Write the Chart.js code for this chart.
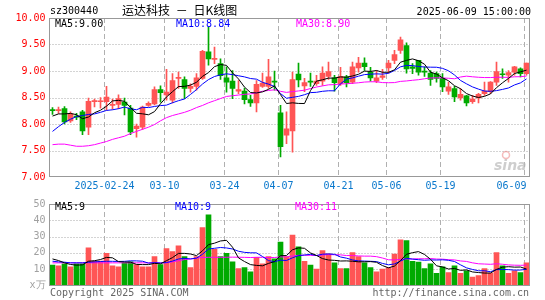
<!DOCTYPE html>
<html><head><meta charset="utf-8">
<script src="https://cdn.jsdelivr.net/npm/chart.js@4/dist/chart.umd.min.js"></script>
<style>
html,body{margin:0;padding:0;background:#fff;width:545px;height:300px;overflow:hidden;}
#wrap{position:relative;width:545px;height:300px;}
canvas{position:absolute;left:0;}
.t{position:absolute;font-family:"DejaVu Sans Mono",monospace;font-size:10px;line-height:12px;white-space:pre;}
</style></head><body>
<div id="wrap">
<canvas id="k" width="545" height="195" style="top:0;width:545px;height:195px"></canvas>
<canvas id="v" width="545" height="105" style="top:195px;width:545px;height:105px"></canvas>
<div class="t" style="left:50px;top:5px;color:#000">sz300440</div>
<div class="t" style="left:122px;top:2px;font-family:'Noto Sans CJK SC',sans-serif;font-size:12px;line-height:15px;word-spacing:3px;color:#000">运达科技 － 日K线图</div>
<div class="t" style="right:14px;top:6px;color:#000">2025-06-09 15:00:00</div>
<div class="t" id="l1" style="left:55px;top:18px;color:#000"></div>
<div class="t" id="l2" style="left:176px;top:18px;color:#0000ff"></div>
<div class="t" id="l3" style="left:296px;top:18px;color:#ff00ff"></div>
<div class="t" id="l4" style="left:55px;top:201px;color:#000"></div>
<div class="t" id="l5" style="left:175px;top:201px;color:#0000ff"></div>
<div class="t" id="l6" style="left:295px;top:201px;color:#ff00ff"></div>
<div class="t" style="left:50px;top:287px;color:#666">Copyright 2025 SINA.COM</div>
<div class="t" style="right:16px;top:287px;color:#666">http://finance.sina.com.cn</div>
</div>
<script>
// ---- data ----
const dates = ['02-11','02-12','02-13','02-14','02-17','02-18','02-19','02-20','02-21','02-24',
 '02-25','02-26','02-27','02-28','03-03','03-04','03-05','03-06','03-07','03-10',
 '03-11','03-12','03-13','03-14','03-17','03-18','03-19','03-20','03-21','03-24',
 '03-25','03-26','03-27','03-28','03-31','04-01','04-02','04-03','04-07','04-08',
 '04-09','04-10','04-11','04-14','04-15','04-16','04-17','04-18','04-21','04-22',
 '04-23','04-24','04-25','04-28','04-29','04-30','05-06','05-07','05-08','05-09',
 '05-12','05-13','05-14','05-15','05-16','05-19','05-20','05-21','05-22','05-23',
 '05-26','05-27','05-28','05-29','05-30','06-03','06-04','06-05','06-06','06-09'];
const dateTickIdx = [9,19,29,38,48,56,65,79];
const dateTickText = ['2025-02-24','03-10','03-24','04-07','04-21','05-06','05-19','06-09'];
const opens = [8.27,8.25,8.29,8.06,8.15,8.23,7.94,8.42,8.42,8.42,
 8.35,8.37,8.415,8.30,7.91,7.94,8.35,8.38,8.65,8.55,
 8.45,8.86,8.84,8.67,8.71,8.86,9.36,9.22,9.14,8.87,
 8.81,8.62,8.62,8.46,8.40,8.71,8.71,8.80,8.21,7.79,
 7.87,8.94,8.72,8.80,8.76,8.81,8.90,8.87,8.76,8.89,
 8.79,9.06,9.15,8.98,8.81,8.88,9.06,9.20,9.39,9.48,
 9.08,9.20,8.99,8.96,8.95,8.86,8.62,8.67,8.49,8.53,
 8.42,8.49,8.57,8.61,8.79,8.94,8.92,8.98,9.04,8.95];
const highs = [8.31,8.32,8.33,8.23,8.20,8.26,8.49,8.47,8.50,8.71,
 8.47,8.55,8.49,8.35,8.00,8.34,8.42,8.70,8.72,9.03,
 8.95,8.98,8.89,8.76,8.95,9.39,9.83,9.45,9.23,9.08,
 9.01,8.82,8.68,8.54,8.82,8.96,9.22,9.00,8.35,8.23,
 8.98,9.15,8.86,8.96,8.92,9.08,9.17,8.92,9.07,8.92,
 9.17,9.26,9.25,9.07,9.01,9.03,9.20,9.39,9.64,9.53,
 9.14,9.20,9.08,9.01,8.98,8.95,8.79,8.71,8.67,8.54,
 8.54,8.58,8.79,8.80,9.17,9.04,9.01,9.09,9.06,9.15];
const lows = [8.18,8.20,8.00,8.03,8.08,7.80,7.80,8.32,8.30,8.26,
 8.28,8.29,8.17,7.80,7.75,7.90,8.33,8.36,8.41,8.45,
 8.40,8.67,8.48,8.60,8.64,8.84,9.11,9.14,8.84,8.60,
 8.48,8.57,8.38,8.33,8.23,8.69,8.67,8.64,7.38,7.63,
 7.47,8.70,8.61,8.71,8.73,8.73,8.84,8.62,8.73,8.70,
 8.76,8.98,9.01,8.81,8.78,8.84,8.96,9.14,9.33,8.96,
 8.95,8.92,8.90,8.73,8.79,8.61,8.56,8.42,8.45,8.34,
 8.39,8.40,8.54,8.57,8.73,8.86,8.79,8.92,8.89,8.92];
const closes = [8.25,8.27,8.04,8.19,8.13,7.87,8.43,8.44,8.43,8.51,
 8.37,8.48,8.35,7.85,7.96,8.32,8.39,8.65,8.59,8.60,
 8.82,8.87,8.67,8.71,8.87,9.37,9.23,9.23,8.91,8.79,
 8.67,8.65,8.46,8.40,8.75,8.77,8.89,8.79,7.57,7.91,
 8.84,8.83,8.78,8.79,8.81,8.96,8.99,8.78,8.90,8.78,
 9.08,9.15,9.08,8.87,8.87,8.91,9.15,9.31,9.59,9.04,
 9.05,8.98,8.98,8.84,8.86,8.70,8.70,8.51,8.56,8.40,
 8.47,8.56,8.62,8.79,8.99,8.93,8.97,9.08,8.95,9.15];
const volumes = [12.5,12.0,13.3,11.4,13.3,13.3,23.1,15.0,15.0,19.8,
 12.0,11.4,13.9,14.5,12.9,11.4,11.4,17.8,12.9,22.7,
 20.8,24.3,17.8,11.0,17.8,35.5,43.3,22.2,17.8,19.8,
 14.5,10.4,11.0,8.4,17.3,13.3,17.8,16.3,26.7,17.8,
 31.0,23.7,14.9,12.5,10.0,21.4,19.4,13.9,10.4,10.4,
 20.2,17.8,13.9,11.0,8.4,10.0,11.0,19.2,28.0,27.6,
 14.9,14.3,10.4,13.3,7.5,11.4,8.0,12.0,7.5,9.0,
 5.1,6.1,10.4,7.6,20.2,12.0,7.5,9.0,8.0,13.9];
// moving-average values at the start of the window (earlier closes not shown)
const ma5Head = [8.15,8.19,8.19,8.20];
const ma10Head = [7.86,7.95,8.03,8.09,8.14,8.16,8.18,8.19,8.22];
const ma30Head = [7.61,7.62,7.62,7.60,7.58,7.58,7.59,7.61,7.64,7.67,7.71,7.74,7.77,7.82,7.86,
 7.90,7.94,7.99,8.06,8.12,8.16,8.19,8.22,8.26,8.31,8.35,8.40,8.44,8.48];
const vma5Head = [16.3,15.3,13.9,12.9];
const vma10Head = [14.9,14.5,14.3,13.9,13.9,13.9,14.3,14.5,14.7];
const vma30Head = [13.9,13.9,13.9,13.9,13.9,13.9,13.9,13.9,13.9,13.9,13.9,13.9,13.9,13.9,13.9,
 13.9,13.9,13.9,13.9,13.9,14.5,15.2,15.9,16.3,16.8,17.2,17.3,17.3,17.3];
const priceLegend = ['MA5:9.00','MA10:8.84','MA30:8.90'];
const volLegend = ['MA5:9','MA10:9','MA30:11'];
const priceMin = 7, priceMax = 10, priceStep = 0.5;
const volMin = 0, volMax = 50, volStep = 10;
const volZeroLabel = 'x万';

// ---- helpers ----
const RED = '#ff5555', GREEN = '#00aa00';
function movingAvg(vals, n, head){
  return vals.map((_, i) => {
    if (i < n - 1) return head[i];
    let s = 0; for (let k = i - n + 1; k <= i; k++) s += vals[k];
    return s / n;
  });
}
const upColor = closes.map((c, i) => c >= opens[i] ? RED : GREEN);
['l1','l2','l3'].forEach((id,i)=>document.getElementById(id).textContent = priceLegend[i]);
['l4','l5','l6'].forEach((id,i)=>document.getElementById(id).textContent = volLegend[i]);

function gridPlugin(hTicks){
  return {
    id: 'gridframe',
    beforeDatasetsDraw(chart){
      const {ctx, chartArea: a, scales} = chart;
      const x = scales.x, y = scales.y;
      const step = (a.right - a.left) / dates.length;
      ctx.save();
      ctx.lineWidth = 1;
      ctx.strokeStyle = '#a8a8a8';
      ctx.setLineDash([1,2]);
      hTicks.forEach(v => {
        const py = Math.round(y.getPixelForValue(v)) + 0.5;
        ctx.beginPath(); ctx.moveTo(a.left, py); ctx.lineTo(a.right, py); ctx.stroke();
      });
      ctx.strokeStyle = '#b0b0b0';
      ctx.setLineDash([5,3]);
      dateTickIdx.forEach(i => {
        const px = Math.round(x.getPixelForValue(i) - step/2 + 0.5) + 0.5;
        ctx.beginPath(); ctx.moveTo(px, a.top); ctx.lineTo(px, a.bottom); ctx.stroke();
      });
      ctx.restore();
    },
    afterDatasetsDraw(chart){
      const {ctx, chartArea: a} = chart;
      ctx.save();
      ctx.strokeStyle = '#999';
      ctx.lineWidth = 1;
      const t = Math.round(a.top) + 0.5, b = Math.round(a.bottom) - 0.5;
      ctx.strokeRect(a.left, t, a.right - a.left, b - t);
      ctx.restore();
    }
  };
}

const xLabelPlugin = {
  id: 'xlabels',
  afterDraw(chart){
    const {ctx, chartArea: a, scales} = chart;
    const x = scales.x;
    const step = (a.right - a.left) / dates.length;
    ctx.save();
    ctx.font = '10px "DejaVu Sans Mono", monospace';
    ctx.fillStyle = '#0a78cc';
    ctx.textBaseline = 'middle';
    dateTickIdx.forEach((i, k) => {
      const txt = dateTickText[k];
      const w = ctx.measureText(txt).width;
      let cx = Math.round(x.getPixelForValue(i) - step/2 + 0.5) + 0.5;
      cx = Math.min(cx, a.right - 3 - w/2);
      ctx.fillText(txt, cx - w/2, 186);
    });
    // watermark
    ctx.font = 'italic bold 14px "DejaVu Sans", sans-serif';
    ctx.fillStyle = 'rgba(185,185,185,0.7)';
    ctx.fillText('sina', 494, 166);
    ctx.strokeStyle = 'rgba(235,120,120,0.5)';
    ctx.lineWidth = 1.5;
    ctx.beginPath(); ctx.arc(506, 155, 3.5, 0, Math.PI*2); ctx.stroke();
    ctx.restore();
  }
};

const monoFont = {family: '"DejaVu Sans Mono", monospace', size: 10, lineHeight: 1};
const baseOpts = {
  responsive: false, devicePixelRatio: 1, animation: false, events: [],
  plugins: {legend: {display: false}, tooltip: {enabled: false}, title: {display: false}},
};
function lineDs(data, color){
  return {type: 'line', data, borderColor: color, borderWidth: 1, pointRadius: 0, tension: 0, fill: false, order: 0};
}

// ---- price chart ----
const priceTicks = [];
for (let v = priceMin + priceStep; v < priceMax - 1e-9; v += priceStep) priceTicks.push(v);
new Chart(document.getElementById('k'), {
  type: 'bar',
  data: {
    labels: dates,
    datasets: [
      lineDs(movingAvg(closes, 5, ma5Head), '#000000'),
      lineDs(movingAvg(closes, 10, ma10Head), '#0000ff'),
      lineDs(movingAvg(closes, 30, ma30Head), '#ff00ff'),
      {data: opens.map((o, i) => [o, closes[i]]), backgroundColor: upColor, barThickness: 5, minBarLength: 1, grouped: false, borderWidth: 0, order: 1},
      {data: lows.map((l, i) => [l, highs[i]]), backgroundColor: upColor, barThickness: 1, grouped: false, borderWidth: 0, order: 2}
    ]
  },
  options: Object.assign({}, baseOpts, {
    layout: {padding: {left: 0, right: 15.5, top: 18, bottom: 18}},
    scales: {
      x: {type: 'category', offset: true, display: false},
      y: {
        min: priceMin, max: priceMax,
        grid: {display: false, drawTicks: false}, border: {display: false},
        ticks: {stepSize: priceStep, color: '#ff0000', font: monoFont, padding: 4, autoSkip: false,
                callback: v => Number(v).toFixed(2)},
        afterFit: s => { s.width = 49.5; }
      }
    }
  }),
  plugins: [gridPlugin(priceTicks), xLabelPlugin]
});

// ---- volume chart ----
const volTicks = [];
for (let v = volMin + volStep; v < volMax; v += volStep) volTicks.push(v);
const volColor = volumes.map((_, i) => upColor[i]);
new Chart(document.getElementById('v'), {
  type: 'bar',
  data: {
    labels: dates,
    datasets: [
      lineDs(movingAvg(volumes, 5, vma5Head), '#000000'),
      lineDs(movingAvg(volumes, 10, vma10Head), '#0000ff'),
      lineDs(movingAvg(volumes, 30, vma30Head), '#ff00ff'),
      {data: volumes, backgroundColor: volColor, barThickness: 5, grouped: false, borderWidth: 0, order: 1}
    ]
  },
  options: Object.assign({}, baseOpts, {
    layout: {padding: {left: 0, right: 15.5, top: 5.5, bottom: 14.5}},
    scales: {
      x: {type: 'category', offset: true, display: false},
      y: {
        min: volMin, max: volMax,
        grid: {display: false, drawTicks: false}, border: {display: false},
        ticks: {stepSize: volStep, color: '#a0a0a0', font: monoFont, padding: 4, autoSkip: false,
                callback: v => v === 0 ? volZeroLabel : String(v)},
        afterFit: s => { s.width = 49.5; }
      }
    }
  }),
  plugins: [gridPlugin(volTicks)]
});
</script>
</body></html>
